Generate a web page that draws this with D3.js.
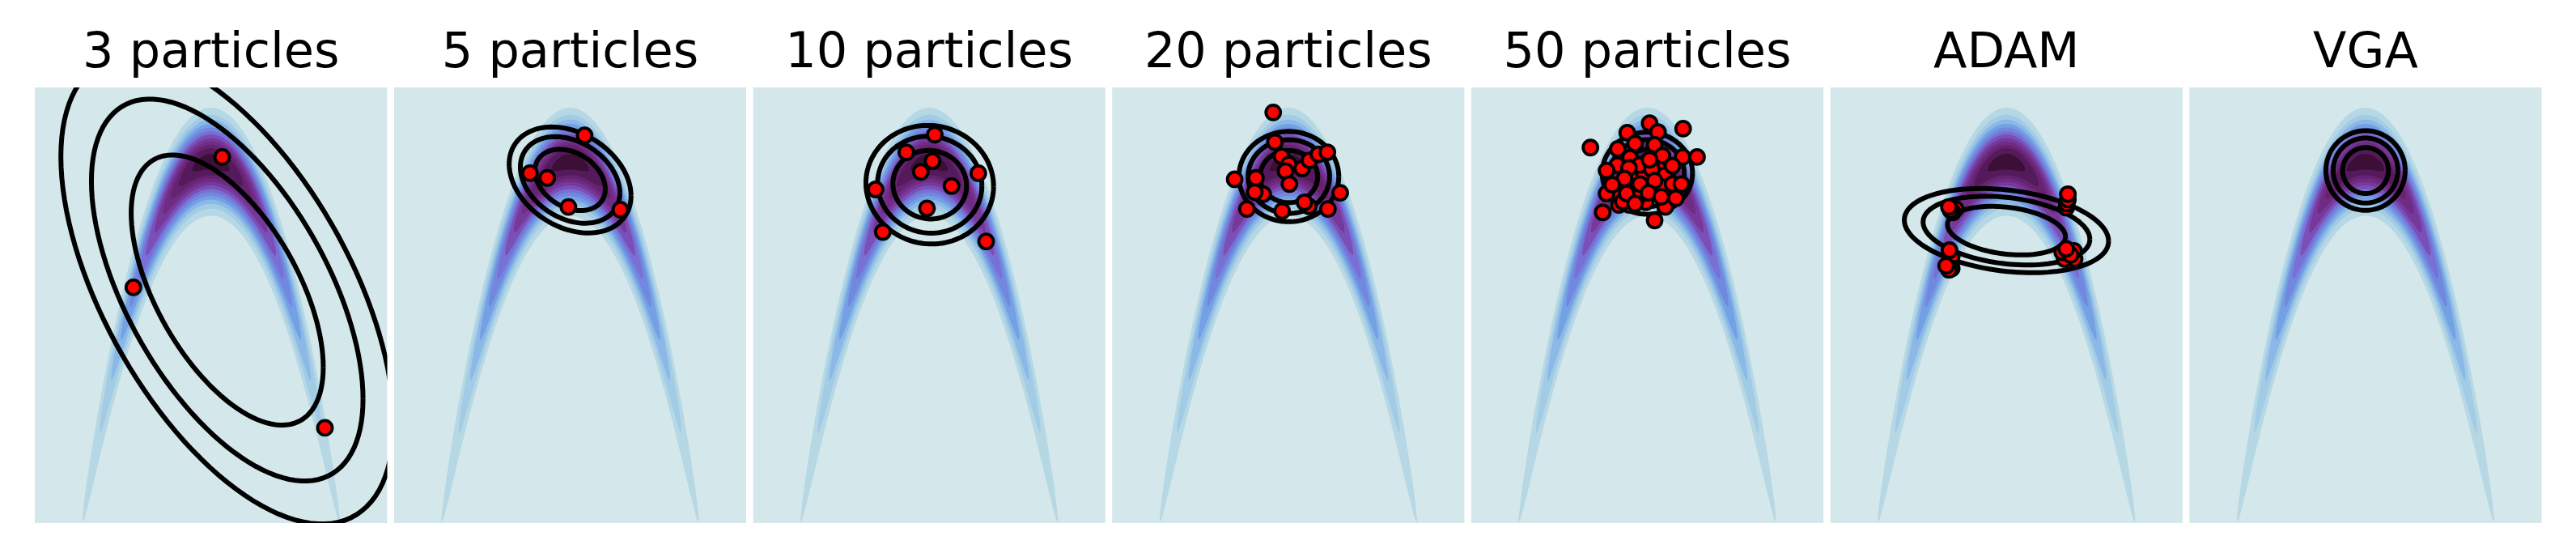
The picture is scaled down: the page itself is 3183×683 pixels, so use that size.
<!DOCTYPE html>
<html><head><meta charset="utf-8">
<script src="https://cdn.jsdelivr.net/npm/d3@7"></script>
<style>html,body{margin:0;padding:0;background:#fff}svg{display:block}text{font-family:"DejaVu Sans";fill:#000}</style>
</head><body><div id="c"></div>
<script>
// ---- data (data units of the panels) ----
const titles = ["3 particles","5 particles","10 particles","20 particles","50 particles","ADAM","VGA"];

// Particles per panel
const p3x = [0.20,-1.39,2.04];
const p3y = [0.07,-1.86,-3.94];
const p5x = [0.26,-0.72,-0.41,-0.03,0.90];
const p5y = [0.39,-0.17,-0.24,-0.67,-0.71];
const p10x = [0.10,-0.41,0.06,-0.15,0.88,0.40,-0.96,-0.04,-0.83,1.02];
const p10y = [0.40,0.14,0.01,-0.15,-0.17,-0.36,-0.41,-0.69,-1.04,-1.18];
const p20x = [-0.27,-0.24,-0.12,0.01,-0.05,0.25,0.38,0.54,0.70,0.02,-0.45,-0.58,-0.96,-0.60,-0.74,0.37,-0.11,0.29,0.71,0.93];
const p20y = [0.73,0.29,0.08,-0.04,-0.14,-0.10,0.02,0.11,0.14,-0.33,-0.48,-0.24,-0.26,-0.45,-0.70,-0.66,-0.73,-0.60,-0.70,-0.46];
const p50x = [-0.32,-0.03,0.16,-0.10,-0.22,-0.51,0.19,0.40,-0.27,-0.06,0.31,-0.51,-0.44,-0.15,-0.18,-0.13,-0.73,0.31,0.45,0.32,0.13,-0.80,-0.31,-0.54,-0.14,0.08,0.04,-0.36,0.19,0.64,-1.02,-0.53,-0.22,0.13,0.27,0.63,0.89,0.04,0.45,-0.73,-0.33,-0.41,0.13,-0.63,0.61,-0.37,0.02,0.25,0.51,-0.22];
const p50y = [-0.64,-0.60,-0.42,-0.12,-0.36,-0.48,-0.08,-0.48,-0.24,-0.20,-0.20,-0.64,-0.59,-0.50,-0.42,-0.33,-0.47,-0.38,-0.33,-0.67,-0.87,-0.75,0.06,-0.05,-0.05,-0.11,0.57,0.43,0.44,0.49,0.21,0.19,0.27,0.25,0.09,0.07,0.07,0.03,-0.06,-0.13,-0.09,-0.25,-0.28,-0.34,-0.33,-0.47,-0.46,-0.52,-0.54,-0.62];
const pAdamX = [1.07,1.08,1.10,1.10,-0.91,-0.96,-1.00,-1.03,-0.98,-0.98,-1.03,-1.08,-1.02,1.22,1.21,1.04,1.00,1.15,1.07];
const pAdamY = [-0.68,-0.62,-0.56,-0.48,-0.70,-0.75,-0.72,-0.67,-1.40,-1.58,-1.60,-1.54,-1.31,-1.44,-1.32,-1.44,-1.34,-1.38,-1.29];
const pVgaX = [];
const pVgaY = [];
const particleX = [p3x,p5x,p10x,p20x,p50x,pAdamX,pVgaX];
const particleY = [p3y,p5y,p10y,p20y,p50y,pAdamY,pVgaY];

// Fitted Gaussian of each panel: mean, inner-ring half extents, correlation
const meanX  = [0.29, 0.00, 0.01, 0.01, 0.00, 0.00, 0.00];
const meanY  = [-1.90,-0.27,-0.34,-0.22,-0.17,-1.02,-0.13];
const halfX  = [1.72, 0.63, 0.66, 0.516,0.467,1.056,0.41];
const halfY  = [2.00, 0.453,0.507,0.386,0.351,0.36, 0.34];
const rho    = [-0.57,-0.30,-0.03,0.00, 0.00,-0.25, 0.00];
const ringRadii = [1, 1.414, 1.732];

// Target density: banana with parameters
const densitySigmaX = 1.0, densitySigmaY = 0.347, densityApex = 0, densityCurve = 1;
const levelValues = [0.07,0.135,0.20,0.27,0.345,0.425,0.505,0.60,0.69,0.77,0.845,0.945];
const levelColors = ["#b6d8e5","#a2cbe6","#8bb8e6","#74a0e4","#7288df","#7870d4","#7a50b8","#76389a","#702c85","#662470","#551a5c","#3c0f36"];
const backgroundColor = "#d4e7ea";
const xDomain = [-3.156,3.156];
const yDomain = [-5.35,1.10];

// ---- layout ----
const W=3183,H=683, panelW=435.5, panelH=538, step=443.7, panelLeft=43, panelTop=108;
const svg=d3.select("#c").append("svg").attr("width",W).attr("height",H).attr("viewBox",[0,0,W,H]);
svg.append("rect").attr("width",W).attr("height",H).attr("fill","#fff");

const nx=218, ny=270, field=new Float64Array(nx*ny);
for(let j=0;j<ny;j++)for(let i=0;i<nx;i++){
  const x=xDomain[0]+(i+.5)/nx*(xDomain[1]-xDomain[0]);
  const y=yDomain[1]-(j+.5)/ny*(yDomain[1]-yDomain[0]);
  const d=y-(densityApex-densityCurve*x*x);
  field[j*nx+i]=Math.exp(-x*x/(2*densitySigmaX**2)-d*d/(2*densitySigmaY**2));
}
const bands=d3.contours().size([nx,ny]).thresholds(levelValues)(field);

titles.forEach((t,k)=>{
  const x0=panelLeft+k*step;
  const x=d3.scaleLinear().domain(xDomain).range([0,panelW]);
  const y=d3.scaleLinear().domain(yDomain).range([panelH,0]);
  const g=svg.append("g").attr("transform",`translate(${x0},${panelTop})`);
  const id="clip"+k;
  g.append("clipPath").attr("id",id).append("rect").attr("width",panelW).attr("height",panelH);
  g.append("text").attr("x",panelW/2).attr("y",83-panelTop).attr("text-anchor","middle").attr("font-size",60.5).text(t);
  const pg=g.append("g").attr("clip-path",`url(#${id})`);
  pg.append("rect").attr("width",panelW).attr("height",panelH).attr("fill",backgroundColor);
  const path=d3.geoPath(d3.geoTransform({point(a,b){this.stream.point(a/nx*panelW,b/ny*panelH);}}));
  pg.selectAll("path.band").data(bands).join("path").attr("class","band")
    .attr("d",path).attr("fill",(d,i)=>levelColors[i]);
  const angles=d3.range(0,361,3).map(a=>a*Math.PI/180);
  const line=d3.line().x(a=>a[0]).y(a=>a[1]);
  ringRadii.forEach(r=>{
    const pts=angles.map(a=>[
      x(meanX[k]+r*halfX[k]*Math.cos(a)),
      y(meanY[k]+r*halfY[k]*(rho[k]*Math.cos(a)+Math.sqrt(1-rho[k]*rho[k])*Math.sin(a)))
    ]);
    pg.append("path").attr("d",line(pts)).attr("fill","none").attr("stroke","#000").attr("stroke-width",6);
  });
  pg.selectAll("circle").data(particleX[k].map((v,i)=>[v,particleY[k][i]])).join("circle")
    .attr("cx",d=>x(d[0])).attr("cy",d=>y(d[1])).attr("r",9)
    .attr("fill","#ff0000").attr("stroke","#000").attr("stroke-width",3.8);
});
</script></body></html>
